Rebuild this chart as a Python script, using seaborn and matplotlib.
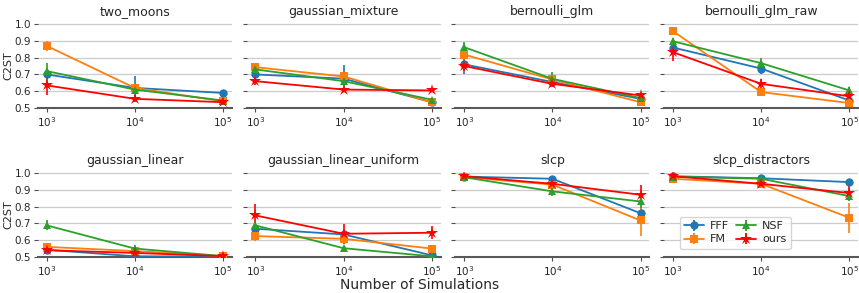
import numpy as np
import pandas as pd
import seaborn as sns
import matplotlib.pyplot as plt

tasks = ["two_moons", "gaussian_mixture", "bernoulli_glm", "bernoulli_glm_raw",
         "gaussian_linear", "gaussian_linear_uniform", "slcp", "slcp_distractors"]
methods = ["FFF", "FM", "NSF", "ours"]
sims = [1e3, 1e4, 1e5]

# mean C2ST per task, per method (at 1e3, 1e4, 1e5)
fff_mean = [[0.70, 0.62, 0.59], [0.70, 0.675, 0.535], [0.76, 0.655, 0.555], [0.86, 0.735, 0.545],
            [0.543, 0.504, 0.502], [0.668, 0.634, 0.51], [0.978, 0.965, 0.76], [0.98, 0.968, 0.945]]
fm_mean = [[0.87, 0.62, 0.54], [0.743, 0.688, 0.535], [0.818, 0.67, 0.535], [0.957, 0.595, 0.53],
           [0.56, 0.535, 0.505], [0.624, 0.608, 0.55], [0.975, 0.93, 0.717], [0.965, 0.935, 0.733]]
nsf_mean = [[0.72, 0.61, 0.545], [0.73, 0.66, 0.55], [0.862, 0.674, 0.56], [0.897, 0.767, 0.605],
            [0.688, 0.55, 0.505], [0.688, 0.552, 0.504], [0.974, 0.89, 0.83], [0.978, 0.965, 0.862]]
ours_mean = [[0.635, 0.555, 0.535], [0.66, 0.61, 0.605], [0.75, 0.644, 0.575], [0.832, 0.644, 0.57],
             [0.54, 0.524, 0.505], [0.747, 0.638, 0.644], [0.98, 0.935, 0.87], [0.98, 0.935, 0.88]]

# error bar half-widths
fff_err = [[0.02, 0.07, 0.01], [0.02, 0.08, 0.01], [0.06, 0.02, 0.01], [0.02, 0.03, 0.01],
           [0.01, 0.01, 0.005], [0.02, 0.02, 0.01], [0.01, 0.01, 0.03], [0.01, 0.01, 0.01]]
fm_err = [[0.03, 0.02, 0.01], [0.02, 0.02, 0.01], [0.02, 0.02, 0.01], [0.01, 0.01, 0.01],
          [0.01, 0.01, 0.005], [0.03, 0.02, 0.01], [0.01, 0.02, 0.09], [0.01, 0.01, 0.09]]
nsf_err = [[0.05, 0.02, 0.01], [0.02, 0.02, 0.01], [0.03, 0.04, 0.01], [0.02, 0.03, 0.02],
           [0.03, 0.02, 0.005], [0.02, 0.01, 0.005], [0.01, 0.03, 0.04], [0.01, 0.01, 0.03]]
ours_err = [[0.06, 0.02, 0.01], [0.02, 0.01, 0.01], [0.03, 0.02, 0.01], [0.05, 0.03, 0.02],
            [0.01, 0.02, 0.005], [0.07, 0.06, 0.04], [0.01, 0.02, 0.06], [0.01, 0.02, 0.04]]

means = {"FFF": fff_mean, "FM": fm_mean, "NSF": nsf_mean, "ours": ours_mean}
errs = {"FFF": fff_err, "FM": fm_err, "NSF": nsf_err, "ours": ours_err}
colors = {"FFF": "#1f77b4", "FM": "#ff7f0e", "NSF": "#2ca02c", "ours": "#ff0000"}
markers = {"FFF": "o", "FM": "s", "NSF": "^", "ours": "*"}
msizes = {"FFF": 6, "FM": 6, "NSF": 6, "ours": 9}

rows = []
for m in methods:
    for t, task in enumerate(tasks):
        for i, n in enumerate(sims):
            rows.append(dict(task=task, method=m, sims=n,
                             c2st=means[m][t][i], err=errs[m][t][i]))
df = pd.DataFrame(rows)

sns.set_style("whitegrid")
plt.rcParams["font.family"] = ["DejaVu Sans"]

fig, axes = plt.subplots(2, 4, figsize=(8.59, 2.93), dpi=100, sharey=True)
fig.subplots_adjust(left=0.044, right=0.999, top=0.921, bottom=0.123,
                    hspace=0.753, wspace=0.077)

for ax, task in zip(axes.flat, tasks):
    sub = df[df.task == task]
    for m in methods:
        d = sub[sub.method == m]
        ax.errorbar(d.sims, d.c2st, yerr=d.err, fmt="none", ecolor=colors[m],
                    elinewidth=1.2, zorder=2)
        sns.lineplot(data=d, x="sims", y="c2st", ax=ax, color=colors[m],
                     marker=markers[m], markersize=msizes[m], markeredgewidth=0,
                     linewidth=1.3, legend=False, zorder=3)
    ax.set_xscale("log")
    ax.set_xlim(10 ** 2.9, 10 ** 5.1)
    ax.set_xticks(sims)
    ax.minorticks_off()
    ax.set_ylim(0.5, 1.005)
    ax.set_yticks([0.5, 0.6, 0.7, 0.8, 0.9, 1.0])
    ax.set_title(task, fontsize=9)
    ax.set_xlabel("")
    ax.set_ylabel("")
    ax.grid(axis="x", visible=False)
    ax.grid(axis="y", color="0.8", linewidth=0.9)
    ax.spines["left"].set_visible(False)
    ax.spines["top"].set_visible(False)
    ax.spines["right"].set_visible(False)
    ax.spines["bottom"].set_color("0.35")
    ax.spines["bottom"].set_linewidth(1.5)
    ax.tick_params(axis="both", labelsize=7.5, length=3, color="0.3", width=0.8,
                   pad=2, bottom=True, left=True)

for ax in axes[:, 0]:
    ax.set_ylabel("C2ST", fontsize=8, labelpad=1)

# legend handles with error bars
last = axes[1, 3]
handles = []
for m in methods:
    h = last.errorbar([np.nan], [np.nan], yerr=[0.01], color=colors[m],
                      marker=markers[m], markersize=msizes[m], markeredgewidth=0,
                      linewidth=1.3)
    handles.append(h)
last.legend(handles, methods, ncol=2, fontsize=8, loc="lower left",
            bbox_to_anchor=(0.05, 0.03), handlelength=1.8, columnspacing=0.7,
            handletextpad=0.5, borderpad=0.4, labelspacing=0.3, frameon=True)

fig.text(0.488, 0.005, "Number of Simulations", ha="center", va="bottom", fontsize=10)

plt.savefig("out.png", dpi=100)
